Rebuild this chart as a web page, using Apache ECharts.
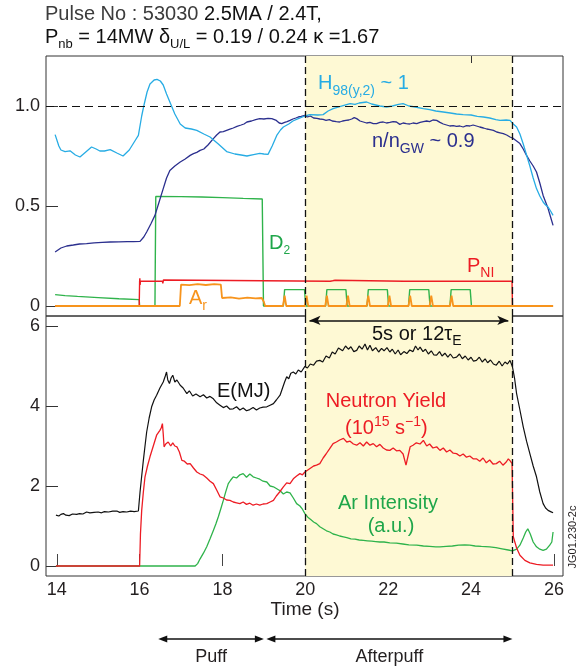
<!DOCTYPE html>
<html>
<head>
<meta charset="utf-8">
<script src="https://cdn.jsdelivr.net/npm/echarts@6/dist/echarts.min.js"></script>
<style>
  html, body { margin: 0; padding: 0; background: #fff; }
  #chart { width: 583px; height: 666px; }
</style>
</head>
<body>
<div id="chart"></div>
<script>
// ---- Time axis ----
const timeTicks = [14, 16, 18, 20, 22, 24, 26];
const upperTicks = [0, 0.5, 1.0];
const lowerTicks = [0, 2, 4, 6];

// ---- Upper panel: normalised quantities ----
const h98 = [[13.96,0.857],[14.05,0.80],[14.1,0.78],[14.2,0.772],[14.32,0.776],[14.45,0.755],[14.56,0.745],[14.7,0.77],[14.84,0.795],[14.95,0.785],[15.04,0.775],[15.15,0.775],[15.29,0.782],[15.45,0.765],[15.6,0.75],[15.75,0.78],[15.9,0.83],[15.97,0.853],[16.05,0.95],[16.1,1.0],[16.18,1.07],[16.25,1.11],[16.35,1.13],[16.42,1.133],[16.5,1.125],[16.57,1.105],[16.65,1.06],[16.73,1.02],[16.85,0.96],[16.98,0.91],[17.1,0.89],[17.25,0.885],[17.38,0.878],[17.55,0.86],[17.7,0.845],[17.9,0.81],[18.1,0.772],[18.3,0.76],[18.45,0.755],[18.59,0.75],[18.75,0.757],[18.9,0.763],[19.0,0.76],[19.1,0.758],[19.2,0.8],[19.31,0.853],[19.4,0.88],[19.47,0.895],[19.6,0.91],[19.7,0.925],[19.83,0.937],[19.99,0.95],[20.11,0.957],[20.3,0.955],[20.43,0.957],[20.55,0.975],[20.67,0.987],[20.85,0.998],[21.08,1.012],[21.2,1.008],[21.3,1.015],[21.48,1.02],[21.6,1.01],[21.8,1.0],[21.96,0.995],[22.1,1.0],[22.25,1.008],[22.36,1.012],[22.5,1.0],[22.65,0.995],[22.85,0.987],[23.0,0.982],[23.15,0.975],[23.33,0.97],[23.5,0.965],[23.65,0.96],[23.81,0.957],[24.0,0.955],[24.15,0.948],[24.3,0.945],[24.45,0.94],[24.6,0.932],[24.7,0.928],[24.85,0.93],[24.94,0.928],[25.02,0.91],[25.1,0.895],[25.18,0.86],[25.26,0.81],[25.34,0.755],[25.42,0.70],[25.5,0.64],[25.58,0.587],[25.66,0.55],[25.74,0.52],[25.8,0.505],[25.86,0.495],[25.92,0.475],[25.98,0.453]];

const densityGW = [[13.96,0.27],[14.1,0.29],[14.24,0.30],[14.4,0.305],[14.55,0.31],[14.72,0.312],[14.9,0.316],[15.1,0.318],[15.29,0.32],[15.5,0.321],[15.7,0.322],[15.85,0.322],[16.01,0.323],[16.1,0.345],[16.17,0.37],[16.27,0.41],[16.37,0.453],[16.47,0.52],[16.57,0.587],[16.65,0.64],[16.73,0.678],[16.85,0.70],[16.98,0.72],[17.1,0.735],[17.22,0.753],[17.3,0.762],[17.38,0.768],[17.46,0.778],[17.55,0.785],[17.65,0.805],[17.78,0.837],[17.86,0.855],[17.94,0.87],[18.02,0.872],[18.1,0.878],[18.18,0.884],[18.26,0.89],[18.35,0.898],[18.45,0.905],[18.52,0.91],[18.59,0.92],[18.7,0.925],[18.8,0.932],[18.9,0.937],[19.0,0.935],[19.1,0.938],[19.19,0.937],[19.3,0.928],[19.37,0.915],[19.43,0.912],[19.5,0.918],[19.56,0.922],[19.63,0.928],[19.7,0.935],[19.77,0.94],[19.83,0.945],[19.9,0.948],[19.99,0.953],[20.05,0.945],[20.12,0.95],[20.2,0.94],[20.28,0.938],[20.35,0.935],[20.43,0.933],[20.5,0.928],[20.58,0.932],[20.65,0.925],[20.75,0.922],[20.83,0.92],[20.9,0.925],[20.98,0.928],[21.05,0.93],[21.12,0.935],[21.18,0.942],[21.24,0.937],[21.32,0.925],[21.4,0.92],[21.48,0.915],[21.56,0.918],[21.64,0.912],[21.72,0.912],[21.8,0.918],[21.88,0.92],[21.96,0.915],[22.04,0.918],[22.12,0.922],[22.2,0.92],[22.28,0.908],[22.36,0.915],[22.44,0.912],[22.52,0.91],[22.6,0.915],[22.69,0.912],[22.77,0.918],[22.85,0.922],[22.93,0.925],[23.0,0.922],[23.08,0.93],[23.17,0.928],[23.25,0.918],[23.33,0.91],[23.41,0.905],[23.49,0.9],[23.57,0.902],[23.65,0.898],[23.73,0.9],[23.81,0.895],[23.89,0.902],[23.97,0.9],[24.05,0.905],[24.13,0.90],[24.21,0.895],[24.3,0.89],[24.38,0.885],[24.46,0.882],[24.54,0.878],[24.62,0.87],[24.7,0.866],[24.78,0.862],[24.86,0.855],[24.94,0.845],[25.02,0.838],[25.1,0.825],[25.18,0.812],[25.26,0.785],[25.34,0.753],[25.42,0.725],[25.5,0.70],[25.58,0.67],[25.66,0.615],[25.74,0.553],[25.8,0.52],[25.86,0.487],[25.92,0.445],[25.98,0.403]];

const d2Puff = [[13.96,0.057],[14.2,0.052],[14.5,0.048],[15.0,0.042],[15.5,0.036],[15.99,0.032],[16.0,0],[16.37,0],[16.39,0.548],[17.0,0.547],[17.5,0.545],[18.0,0.542],[18.5,0.538],[18.96,0.535],[18.99,0],[19.47,0],[19.5,0.082],[19.98,0.082],[20.01,0],[20.49,0],[20.52,0.082],[20.98,0.082],[21.01,0],[21.49,0],[21.52,0.082],[21.98,0.082],[22.01,0],[22.49,0],[22.52,0.082],[22.98,0.082],[23.01,0],[23.49,0],[23.52,0.082],[23.98,0.082],[24.01,0],[25.98,0]];

const pNI = [[13.96,0],[15.99,0],[16.0,0.1235],[16.005,0.138],[16.012,0.105],[16.02,0.1235],[16.55,0.1235],[16.56,0.113],[16.575,0.13],[16.59,0.1235],[20.6,0.1235],[20.63,0.13],[20.66,0.126],[20.72,0.129],[20.75,0.1235],[22.38,0.1235],[22.4,0.115],[22.42,0.13],[22.44,0.1235],[24.99,0.1235],[25.0,0],[25.98,0]];

const arPuff = [[13.96,0],[16.97,0],[17.0,0.107],[17.2,0.104],[17.4,0.109],[17.6,0.105],[17.8,0.109],[17.96,0.107],[17.99,0.04],[18.2,0.043],[18.4,0.037],[18.6,0.042],[18.8,0.038],[18.95,0.04],[19.0,0.02],[19.03,0],[19.46,0],[19.5,0.052],[19.54,0],[19.99,0],[20.03,0.052],[20.07,0],[20.48,0],[20.52,0.052],[20.56,0],[20.99,0],[21.03,0.052],[21.07,0],[21.48,0],[21.52,0.052],[21.56,0],[21.99,0],[22.03,0.052],[22.07,0],[22.49,0],[22.53,0.052],[22.57,0],[23.0,0],[23.04,0.052],[23.08,0],[23.49,0],[23.53,0.052],[23.57,0],[25.98,0]];

// ---- Lower panel ----
const storedEnergy = [[13.98,1.27],[14.05,1.25],[14.1,1.29],[14.16,1.31],[14.22,1.27],[14.3,1.26],[14.38,1.3],[14.48,1.29],[14.55,1.31],[14.63,1.3],[14.72,1.35],[14.8,1.33],[14.9,1.34],[15.0,1.35],[15.08,1.33],[15.15,1.36],[15.25,1.35],[15.35,1.37],[15.45,1.375],[15.52,1.34],[15.6,1.36],[15.69,1.35],[15.78,1.37],[15.87,1.36],[15.97,1.375],[16.01,1.85],[16.05,2.25],[16.09,2.64],[16.13,3.0],[16.17,3.35],[16.23,3.7],[16.29,3.98],[16.35,4.15],[16.41,4.27],[16.49,4.45],[16.57,4.6],[16.62,4.75],[16.65,4.85],[16.68,4.65],[16.72,4.56],[16.76,4.7],[16.8,4.77],[16.85,4.6],[16.9,4.65],[16.98,4.52],[17.05,4.45],[17.14,4.31],[17.2,4.38],[17.28,4.25],[17.36,4.3],[17.46,4.23],[17.54,4.28],[17.62,4.2],[17.7,4.24],[17.78,4.18],[17.86,4.08],[17.94,4.02],[18.02,3.96],[18.1,4.0],[18.18,3.92],[18.26,3.93],[18.34,3.98],[18.42,3.9],[18.5,3.95],[18.58,3.88],[18.66,3.91],[18.74,3.96],[18.82,3.9],[18.9,3.95],[18.98,3.97],[19.07,3.98],[19.15,4.02],[19.23,4.06],[19.3,4.15],[19.39,4.27],[19.45,4.45],[19.5,4.6],[19.55,4.73],[19.6,4.68],[19.65,4.82],[19.71,4.85],[19.77,4.8],[19.83,4.9],[19.9,4.85],[19.99,4.99],[20.05,4.95],[20.12,5.05],[20.2,5.02],[20.27,5.12],[20.35,5.14],[20.42,5.1],[20.5,5.25],[20.58,5.2],[20.65,5.35],[20.72,5.3],[20.8,5.45],[20.84,5.47],[20.9,5.38],[20.97,5.5],[21.04,5.42],[21.1,5.48],[21.17,5.36],[21.24,5.39],[21.3,5.5],[21.37,5.42],[21.44,5.55],[21.5,5.4],[21.56,5.52],[21.62,5.38],[21.7,5.46],[21.77,5.35],[21.84,5.44],[21.9,5.38],[21.97,5.46],[22.04,5.35],[22.1,5.42],[22.17,5.3],[22.24,5.4],[22.3,5.28],[22.38,5.36],[22.45,5.31],[22.52,5.4],[22.6,5.36],[22.66,5.5],[22.72,5.4],[22.77,5.47],[22.84,5.36],[22.9,5.42],[22.97,5.3],[23.04,5.38],[23.1,5.28],[23.17,5.27],[23.24,5.36],[23.3,5.25],[23.37,5.32],[23.44,5.22],[23.5,5.3],[23.57,5.2],[23.65,5.22],[23.72,5.3],[23.79,5.18],[23.86,5.25],[23.93,5.15],[24.0,5.22],[24.06,5.12],[24.13,5.14],[24.2,5.22],[24.27,5.1],[24.34,5.18],[24.4,5.08],[24.47,5.15],[24.54,5.05],[24.61,5.02],[24.68,5.12],[24.75,5.0],[24.82,5.1],[24.88,5.05],[24.94,5.14],[25.0,4.98],[25.05,4.7],[25.1,4.31],[25.18,3.9],[25.26,3.48],[25.34,3.12],[25.42,2.81],[25.5,2.5],[25.58,2.23],[25.66,1.85],[25.74,1.56],[25.8,1.45],[25.86,1.39],[25.92,1.36],[25.98,1.33]];

const neutronYield = [[13.98,0],[16.0,0],[16.02,0.8],[16.05,1.39],[16.09,1.85],[16.13,2.23],[16.19,2.5],[16.25,2.73],[16.33,3.0],[16.41,3.27],[16.45,3.3],[16.49,3.39],[16.52,3.45],[16.55,3.56],[16.57,3.3],[16.59,2.98],[16.63,3.05],[16.69,3.1],[16.75,3.0],[16.8,3.08],[16.85,3.0],[16.9,2.98],[16.96,2.85],[17.02,2.64],[17.08,2.62],[17.15,2.55],[17.22,2.56],[17.3,2.45],[17.38,2.35],[17.46,2.3],[17.54,2.27],[17.62,2.2],[17.7,2.12],[17.78,2.06],[17.86,1.9],[17.94,1.73],[18.02,1.7],[18.1,1.65],[18.18,1.64],[18.26,1.6],[18.34,1.58],[18.42,1.56],[18.5,1.6],[18.58,1.54],[18.66,1.57],[18.74,1.52],[18.82,1.55],[18.9,1.52],[18.98,1.55],[19.07,1.56],[19.15,1.6],[19.23,1.64],[19.3,1.75],[19.38,1.85],[19.47,1.98],[19.55,2.08],[19.63,2.06],[19.71,2.18],[19.79,2.25],[19.87,2.31],[19.93,2.28],[19.99,2.35],[20.06,2.4],[20.13,2.45],[20.2,2.5],[20.27,2.52],[20.35,2.56],[20.43,2.7],[20.5,2.8],[20.58,2.92],[20.67,3.06],[20.75,3.1],[20.83,3.15],[20.92,3.19],[21.0,3.1],[21.08,3.12],[21.16,3.05],[21.24,3.02],[21.32,3.08],[21.4,3.0],[21.48,3.1],[21.56,3.02],[21.64,3.06],[21.72,2.98],[21.8,3.04],[21.88,2.95],[21.96,2.9],[22.04,2.89],[22.12,2.95],[22.2,2.88],[22.28,2.89],[22.36,2.8],[22.43,2.52],[22.48,2.75],[22.53,2.98],[22.6,3.02],[22.68,3.08],[22.77,3.05],[22.85,3.14],[22.93,3.0],[23.0,3.05],[23.08,2.95],[23.17,2.98],[23.25,2.89],[23.33,2.95],[23.41,2.85],[23.49,2.9],[23.57,2.82],[23.65,2.81],[23.73,2.75],[23.81,2.8],[23.89,2.72],[23.97,2.75],[24.05,2.68],[24.13,2.68],[24.21,2.62],[24.29,2.7],[24.37,2.58],[24.45,2.65],[24.53,2.55],[24.61,2.56],[24.69,2.62],[24.77,2.52],[24.85,2.6],[24.9,2.68],[24.95,2.62],[24.99,2.56],[25.02,0.73],[25.1,0.45],[25.18,0.27],[25.3,0.14],[25.42,0.08],[25.58,0.04],[25.74,0.02],[25.98,0.02]];

const arIntensity = [[13.98,0],[17.34,0],[17.4,0.06],[17.46,0.18],[17.54,0.32],[17.62,0.48],[17.7,0.68],[17.78,0.89],[17.84,1.05],[17.9,1.23],[17.96,1.43],[18.02,1.64],[18.08,1.86],[18.14,2.06],[18.2,2.15],[18.26,2.23],[18.34,2.2],[18.42,2.28],[18.5,2.31],[18.58,2.22],[18.66,2.3],[18.74,2.23],[18.82,2.2],[18.9,2.17],[18.98,2.12],[19.07,2.1],[19.15,2.0],[19.23,1.98],[19.31,1.93],[19.39,1.88],[19.47,1.8],[19.55,1.85],[19.63,1.83],[19.71,1.7],[19.79,1.56],[19.87,1.5],[19.93,1.42],[19.99,1.31],[20.06,1.22],[20.13,1.16],[20.2,1.1],[20.27,1.06],[20.35,0.98],[20.43,0.93],[20.51,0.88],[20.59,0.85],[20.67,0.8],[20.75,0.78],[20.83,0.75],[20.92,0.73],[21.0,0.71],[21.1,0.68],[21.2,0.67],[21.3,0.65],[21.4,0.64],[21.5,0.63],[21.6,0.62],[21.7,0.61],[21.8,0.6],[21.9,0.6],[22.04,0.58],[22.2,0.57],[22.35,0.55],[22.5,0.53],[22.69,0.52],[22.85,0.5],[23.0,0.49],[23.15,0.48],[23.25,0.48],[23.4,0.49],[23.55,0.5],[23.7,0.52],[23.85,0.53],[23.97,0.52],[24.1,0.5],[24.25,0.49],[24.45,0.48],[24.6,0.46],[24.75,0.43],[24.9,0.4],[25.0,0.38],[25.1,0.42],[25.18,0.52],[25.26,0.7],[25.32,0.85],[25.37,0.93],[25.43,0.8],[25.5,0.6],[25.58,0.48],[25.66,0.42],[25.74,0.39],[25.82,0.42],[25.9,0.52],[25.95,0.6],[25.98,0.85]];

// ---- Phases ----
const flatTop = [20, 25];      // shaded steady phase
const puffPhase = [16.45, 19.0];
const afterPhase = [19.06, 25.0];

const FONT = '"Liberation Sans", Arial, Helvetica, sans-serif';
const INK = '#231f20';
const C = { cyan: '#27ace4', navy: '#2b2f8e', green: '#2fb34b', orange: '#f7941d', red: '#ed1c24', black: '#111111' };

const chart = echarts.init(document.getElementById('chart'), null, { renderer: 'canvas' });

function lineSeries(name, data, color, width, gi, extra) {
  return Object.assign({
    name, type: 'line', data, xAxisIndex: gi, yAxisIndex: gi,
    showSymbol: false, symbol: 'none', silent: true, animation: false,
    lineStyle: { color, width }, clip: true
  }, extra || {});
}

const vDash = { type: [7, 4], color: '#111', width: 1.3 };

chart.setOption({
  animation: false,
  grid: [
    { left: 46, top: 56, width: 517, height: 260, show: true, borderColor: '#333', borderWidth: 1, backgroundColor: 'transparent' },
    { left: 46, top: 316, width: 517, height: 260, show: true, borderColor: '#333', borderWidth: 1, backgroundColor: 'transparent' }
  ],
  xAxis: [
    { type: 'value', gridIndex: 0, min: 13.74, max: 26.22, axisLine: { show: false }, axisTick: { show: false }, axisLabel: { show: false }, splitLine: { show: false } },
    { type: 'value', gridIndex: 1, min: 13.74, max: 26.22, axisLine: { show: false }, splitLine: { show: false },
      axisTick: { show: true, inside: true, length: 12, customValues: timeTicks, lineStyle: { color: '#444', width: 1 } },
      axisLabel: { show: true, customValues: timeTicks, margin: 5, color: INK, fontSize: 18, fontFamily: FONT } }
  ],
  yAxis: [
    { type: 'value', gridIndex: 0, min: -0.05, max: 1.25, axisLine: { show: false }, splitLine: { show: false },
      axisTick: { show: true, inside: true, length: 12, customValues: upperTicks, lineStyle: { color: '#333', width: 1 } },
      axisLabel: { show: true, customValues: upperTicks, margin: 6, color: INK, fontSize: 18, fontFamily: FONT,
        formatter: v => (v === 0 ? '0' : v.toFixed(1)) } },
    { type: 'value', gridIndex: 1, min: -0.25, max: 6.25, axisLine: { show: false }, splitLine: { show: false },
      axisTick: { show: true, inside: true, length: 12, customValues: lowerTicks, lineStyle: { color: '#333', width: 1 } },
      axisLabel: { show: true, customValues: lowerTicks, margin: 6, color: INK, fontSize: 18, fontFamily: FONT } }
  ],
  series: [
    // upper panel
    lineSeries('D2', d2Puff, C.green, 1.4, 0, {
      markArea: { silent: true, itemStyle: { color: '#fef9d4' }, data: [[{ xAxis: flatTop[0] }, { xAxis: flatTop[1] }]] }
    }),
    lineSeries('PNI', pNI, C.red, 1.4, 0),
    lineSeries('Ar puff', arPuff, C.orange, 1.8, 0),
    lineSeries('nGW', densityGW, C.navy, 1.3, 0),
    lineSeries('H98', h98, C.cyan, 1.3, 0, {
      markLine: { silent: true, symbol: 'none', animation: false, label: { show: false },
        data: [
          { yAxis: 1.0, lineStyle: { type: [8, 5], color: '#111', width: 1.2 } },
          { xAxis: flatTop[0], lineStyle: vDash },
          { xAxis: flatTop[1], lineStyle: vDash },
          [{ coord: [24, 1.25], lineStyle: { type: 'solid', color: '#333', width: 1 } }, { coord: [24, 1.215] }]
        ] }
    }),
    // lower panel
    lineSeries('Ar intensity', arIntensity, C.green, 1.3, 1, {
      markArea: { silent: true, itemStyle: { color: '#fef9d4' }, data: [[{ xAxis: flatTop[0] }, { xAxis: flatTop[1] }]] }
    }),
    lineSeries('Neutron', neutronYield, C.red, 1.3, 1),
    lineSeries('E', storedEnergy, C.black, 1.2, 1, {
      markLine: { silent: true, symbol: 'none', animation: false, label: { show: false },
        data: [
          { xAxis: flatTop[0], lineStyle: vDash },
          { xAxis: flatTop[1], lineStyle: vDash },
          [{ coord: [20.1, 6.14], symbol: 'arrow', symbolSize: [7, 11], lineStyle: { type: 'solid', color: '#111', width: 1.5 } },
           { coord: [24.9, 6.14], symbol: 'arrow', symbolSize: [7, 11] }]
        ] }
    })
  ]
});

// ---- Text annotations ----
const mctx = document.createElement('canvas').getContext('2d');
function tw(str, size) { mctx.font = size + 'px ' + FONT; return mctx.measureText(str).width; }
// parts: [text, size, baselineShift, colour]
function textRun(x, base, parts, color, anchor) {
  const total = parts.reduce((w, p) => w + tw(p[0], p[1]), 0);
  let cx = anchor === 'center' ? x - total / 2 : x;
  return parts.map(p => {
    const el = { type: 'text', x: cx, y: base + (p[2] || 0) - 0.35 * p[1], silent: true, z: 100,
      style: { text: p[0], fontSize: p[1], fontFamily: FONT, fill: p[3] || color, textAlign: 'left', textVerticalAlign: 'middle', align: 'left', verticalAlign: 'middle' } };
    cx += tw(p[0], p[1]);
    return el;
  });
}

const px = t => chart.convertToPixel({ xAxisIndex: 1 }, t);

function arrowBetween(t0, t1, y) {
  const x0 = px(t0), x1 = px(t1);
  return [
    { type: 'line', silent: true, z: 100, shape: { x1: x0 + 4, y1: y, x2: x1 - 4, y2: y }, style: { stroke: '#111', lineWidth: 1.5 } },
    { type: 'polygon', silent: true, z: 100, shape: { points: [[x0, y], [x0 + 9, y - 3.5], [x0 + 9, y + 3.5]] }, style: { fill: '#111' } },
    { type: 'polygon', silent: true, z: 100, shape: { points: [[x1, y], [x1 - 9, y - 3.5], [x1 - 9, y + 3.5]] }, style: { fill: '#111' } }
  ];
}

const graphics = [].concat(
  textRun(45, 21, [['Pulse No : 53030 ', 20, 0, '#3c3c3c'], ['2.5MA / 2.4T,', 20, 0, '#111']], '#111'),
  textRun(45, 44, [['P', 20], ['nb', 13, 5], [' = 14MW δ', 20], ['U/L', 13, 5], [' = 0.19 / 0.24 κ =1.67', 20]], '#111'),
  textRun(318, 90, [['H', 20], ['98(y,2)', 14, 6], [' ~ 1', 20]], C.cyan),
  textRun(372, 148, [['n/n', 20], ['GW', 14, 6], [' ~ 0.9', 20]], C.navy),
  textRun(269, 250, [['D', 20], ['2', 12, 5]], '#1fa64a'),
  textRun(467, 273, [['P', 20], ['NI', 14, 5]], C.red),
  textRun(189, 305, [['A', 20], ['r', 14, 6]], C.orange),
  textRun(372, 341, [['5s or 12τ', 20], ['E', 14, 5]], '#111'),
  textRun(217, 398, [['E(MJ)', 20]], '#111'),
  textRun(386, 408, [['Neutron Yield', 20]], C.red, 'center'),
  textRun(345, 435, [['(10', 20], ['15', 14, -8], [' s', 20], ['−1', 14, -8], [')', 20]], C.red),
  textRun(388, 510, [['Ar Intensity', 20]], '#1fa64a', 'center'),
  textRun(391, 533, [['(a.u.)', 20]], '#1fa64a', 'center'),
  textRun(305, 616, [['Time (s)', 19]], INK, 'center'),
  arrowBetween(puffPhase[0], puffPhase[1], 639),
  arrowBetween(afterPhase[0], afterPhase[1], 639),
  textRun((px(puffPhase[0]) + px(puffPhase[1])) / 2, 663, [['Puff', 18]], INK, 'center'),
  textRun((px(afterPhase[0]) + px(afterPhase[1])) / 2, 663, [['Afterpuff', 18]], INK, 'center'),
  [{ type: 'text', x: 573, y: 537, rotation: Math.PI / 2, silent: true, z: 100,
     style: { text: 'JG01.230-2c', fontSize: 11, fontFamily: FONT, fill: INK, textAlign: 'center', textVerticalAlign: 'middle', align: 'center', verticalAlign: 'middle' } }]
);

chart.setOption({ graphic: { elements: graphics } });
</script>
</body>
</html>
